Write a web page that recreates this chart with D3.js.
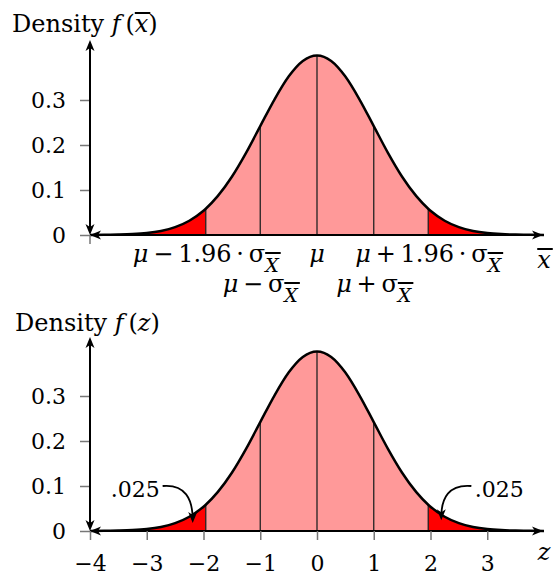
<!DOCTYPE html>
<html>
<head>
<meta charset="utf-8">
<script src="https://cdn.jsdelivr.net/npm/d3@7"></script>
<style>
  body { margin: 0; background: #fff; }
  svg text { font-family: "DejaVu Serif", serif; fill: #000; white-space: pre; }
</style>
</head>
<body>
<div id="chart"></div>
<script>
// standard normal density read at quarter steps, plus the 1.96 cut-offs
const zValues = [-4, -3.75, -3.5, -3.25, -3, -2.75, -2.5, -2.25, -2, -1.96, -1.75, -1.5, -1.25, -1,
  -0.75, -0.5, -0.25, 0, 0.25, 0.5, 0.75, 1, 1.25, 1.5, 1.75, 1.96, 2, 2.25, 2.5, 2.75, 3, 3.25, 3.5, 3.75, 4];
const densityValues = [0.0001, 0.0004, 0.0009, 0.0020, 0.0044, 0.0091, 0.0175, 0.0317, 0.0540, 0.0584,
  0.0863, 0.1295, 0.1826, 0.2420, 0.3011, 0.3521, 0.3867, 0.3989, 0.3867, 0.3521, 0.3011, 0.2420,
  0.1826, 0.1295, 0.0863, 0.0584, 0.0540, 0.0317, 0.0175, 0.0091, 0.0044, 0.0020, 0.0009, 0.0004, 0.0001];

const yTicks = [0, 0.1, 0.2, 0.3];
const yTickLabels = ["0", "0.1", "0.2", "0.3"];
const zTicks = [-4, -3, -2, -1, 0, 1, 2, 3];
const zTickLabels = ["−4", "−3", "−2", "−1", "0", "1", "2", "3"];
const cutZ = [-1.96, -1, 0, 1, 1.96];
const tailZ = 1.96;
const tailLabels = [".025", ".025"];

// labels under the top axis: [text, kind] pieces (thin spaces round operators)
const muLabelZ = [-1.96, 0, 1.96, -1, 1];
const muLabelRow = [0, 0, 0, 1, 1];
const muLabels = [
  [["μ", "it"], ["\u2009−\u20091.96\u2009·\u2009σ"], ["X", "sub"]],
  [["μ", "it"]],
  [["μ", "it"], ["\u2009+\u20091.96\u2009·\u2009σ"], ["X", "sub"]],
  [["μ", "it"], ["\u2009−\u2009σ"], ["X", "sub"]],
  [["μ", "it"], ["\u2009+\u2009σ"], ["X", "sub"]]
];

const data = zValues.map((z, i) => ({ z: z, d: densityValues[i] }));

const W = 555, H = 575;
const svg = d3.select("#chart").append("svg")
    .attr("width", W)
    .attr("height", H);

// stealth arrow head
svg.append("defs").append("marker")
    .attr("id", "head")
    .attr("markerUnits", "userSpaceOnUse")
    .attr("viewBox", "-14 -7 14 14")
    .attr("markerWidth", 14)
    .attr("markerHeight", 14)
    .attr("refX", -3)
    .attr("refY", 0)
    .attr("orient", "auto-start-reverse")
    .style("overflow", "visible")
    .append("path")
    .attr("d", "M0,0 L-11,-4.5 L-8,0 L-11,4.5 Z")
    .attr("fill", "#000");

const x = d3.scaleLinear().domain([-4, 4]).range([90, 544]);

// text with italic parts, subscripts and overlines
function mathText(g, px, py, parts, anchor, size) {
    const t = g.append("text")
        .attr("x", px)
        .attr("y", py)
        .attr("text-anchor", anchor)
        .attr("font-size", size);
    let shift = 0;
    parts.forEach(([s, kind]) => {
        const sp = t.append("tspan").text(s);
        if (kind) sp.attr("font-style", "italic");
        const want = kind === "sub" ? 10 : 0;
        if (want !== shift) { sp.attr("dy", want - shift); shift = want; }
        if (kind === "sub") sp.attr("font-size", 19);
    });
    let idx = 0;
    parts.forEach(([s, kind]) => {
        if (kind === "sub" || kind === "bar") {
            const r = t.node().getExtentOfChar(idx);
            const base = py + (kind === "sub" ? 10 : 0);
            g.append("line")
                .attr("x1", r.x).attr("x2", r.x + r.width + 2)
                .attr("y1", base - 19).attr("y2", base - 19)
                .attr("stroke", "#000")
                .attr("stroke-width", 2);
        }
        idx += s.length;
    });
    return t;
}

function drawPanel(id, yZero, yTop) {
    const y = d3.scaleLinear().domain([0, 0.4]).range([yZero, yZero - 180]);
    const g = svg.append("g");

    const area = d3.area()
        .x(d => x(d.z))
        .y0(y(0))
        .y1(d => y(d.d))
        .curve(d3.curveMonotoneX);
    const line = d3.line()
        .x(d => x(d.z))
        .y(d => y(d.d))
        .curve(d3.curveMonotoneX);

    g.append("path")
        .datum(data)
        .attr("fill", "#ff9999")
        .attr("d", area);

    // red tails, clipped out of the same area
    const clip = g.append("clipPath").attr("id", "tails" + id);
    clip.append("rect")
        .attr("x", 0).attr("y", 0)
        .attr("width", x(-tailZ)).attr("height", H);
    clip.append("rect")
        .attr("x", x(tailZ)).attr("y", 0)
        .attr("width", W - x(tailZ)).attr("height", H);
    g.append("path")
        .datum(data)
        .attr("fill", "#ff0000")
        .attr("clip-path", `url(#tails${id})`)
        .attr("d", area);

    g.selectAll(".cut")
        .data(cutZ)
        .join("line")
        .attr("x1", d => x(d)).attr("x2", d => x(d))
        .attr("y1", y(0))
        .attr("y2", d => y(densityValues[zValues.indexOf(d)]))
        .attr("stroke", "#222")
        .attr("stroke-width", 1.3);

    g.append("path")
        .datum(data)
        .attr("fill", "none")
        .attr("stroke", "#000")
        .attr("stroke-width", 2.5)
        .attr("d", line);

    // y axis ticks and labels
    const ya = g.append("g")
        .attr("transform", `translate(${x(-4)},0)`)
        .call(d3.axisLeft(y).tickValues(yTicks)
            .tickFormat((d, i) => yTickLabels[i])
            .tickSize(10).tickPadding(14));
    ya.attr("font-size", 22);
    ya.select(".domain").remove();
    ya.selectAll("line").attr("stroke", "#777").attr("stroke-width", 1.5);

    // axis lines with heads at both ends
    g.append("line")
        .attr("x1", x(-4) + 3).attr("x2", x(4) - 4)
        .attr("y1", y(0)).attr("y2", y(0))
        .attr("stroke", "#000").attr("stroke-width", 2)
        .attr("marker-start", "url(#head)")
        .attr("marker-end", "url(#head)");
    g.append("line")
        .attr("x1", x(-4)).attr("x2", x(-4))
        .attr("y1", y(0) - 3).attr("y2", yTop + 3)
        .attr("stroke", "#000").attr("stroke-width", 2)
        .attr("marker-start", "url(#head)")
        .attr("marker-end", "url(#head)");
    return { g: g, y: y };
}

// top panel: sampling distribution of the mean
const topPanel = drawPanel("a", 235, 40);
topPanel.g.append("line")
    .attr("x1", x(-4)).attr("x2", x(-4))
    .attr("y1", topPanel.y(0)).attr("y2", topPanel.y(0) + 9)
    .attr("stroke", "#777").attr("stroke-width", 1.5);
mathText(topPanel.g, 12, 32, [["Density "], ["f", "it"], ["\u2009("], ["x", "bar"], [")"]], "start", 24);
muLabels.forEach((parts, i) => {
    mathText(topPanel.g, x(muLabelZ[i]), 262 + muLabelRow[i] * 30, parts, "middle", 24);
});
mathText(topPanel.g, 544, 268, [["x", "bar"]], "middle", 24);

// bottom panel: standard normal
const botPanel = drawPanel("b", 531, 337);
const xa = botPanel.g.append("g")
    .attr("transform", `translate(0,${botPanel.y(0)})`)
    .call(d3.axisBottom(x).tickValues(zTicks)
        .tickFormat((d, i) => zTickLabels[i])
        .tickSize(9).tickPadding(15));
xa.attr("font-size", 22);
xa.select(".domain").remove();
xa.selectAll("line").attr("stroke", "#777").attr("stroke-width", 1.5);
mathText(botPanel.g, 15, 331, [["Density "], ["f", "it"], ["\u2009("], ["z", "it"], [")"]], "start", 24);
mathText(botPanel.g, 544, 560, [["z", "it"]], "middle", 24);

// .025 call-outs: text end/start, arrow start and arrow tip in data units
const callouts = [
    { label: tailLabels[0], tz: -2.77, ty: 0.0756, sz: -2.72, sy: 0.1, ez: -2.19, ey: 0.018, anchor: "end" },
    { label: tailLabels[1], tz: 2.78, ty: 0.0756, sz: 2.72, sy: 0.1, ez: 2.19, ey: 0.024, anchor: "start" }
];
callouts.forEach(c => {
    botPanel.g.append("text")
        .attr("x", x(c.tz))
        .attr("y", botPanel.y(c.ty))
        .attr("text-anchor", c.anchor)
        .attr("font-size", 22)
        .text(c.label);
    const sx = x(c.sz), sy = botPanel.y(c.sy), ex = x(c.ez), ey = botPanel.y(c.ey);
    const p = d3.path();
    p.moveTo(sx, sy);
    p.bezierCurveTo(sx + 0.75 * (ex - sx), sy - 2, ex, sy + 0.35 * (ey - sy), ex, ey - 3);
    botPanel.g.append("path")
        .attr("d", p.toString())
        .attr("fill", "none")
        .attr("stroke", "#000")
        .attr("stroke-width", 1.8)
        .attr("marker-end", "url(#head)");
});
</script>
</body>
</html>
